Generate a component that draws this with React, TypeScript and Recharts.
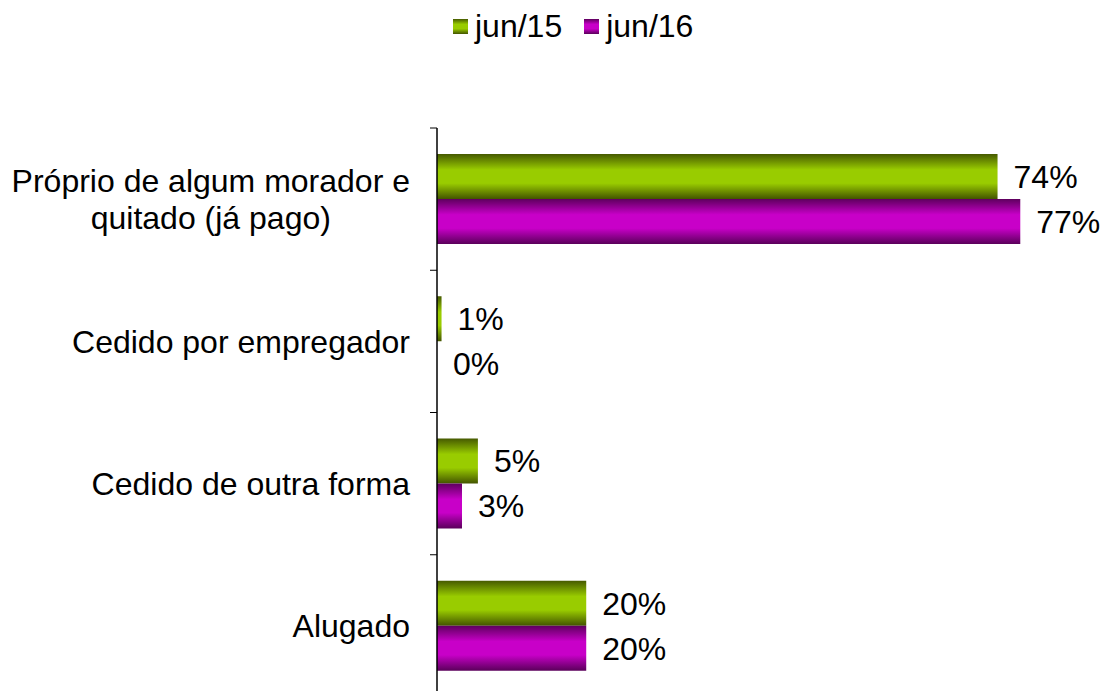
import { BarChart, Bar, XAxis, YAxis, LabelList } from "recharts";

const categories = [
  "Próprio de algum morador e\nquitado (já pago)",
  "Cedido por empregador",
  "Cedido de outra forma",
  "Alugado",
];
// bar lengths; labels show the rounded percent
const jun15 = [74, 0.6, 5.4, 19.7];
const jun16 = [77, 0, 3.3, 19.7];

const series = [
  { key: "jun15", name: "jun/15", grad: "gGreen", stops: ["#465a00", "#99cc00", "#99cc00", "#435400"] },
  { key: "jun16", name: "jun/16", grad: "gPurple", stops: ["#5e005e", "#c800c8", "#c800c8", "#5a005a"] },
];

const data = categories.map((c, i) => ({ cat: c, jun15: jun15[i], jun16: jun16[i] }));

const FONT = '"Liberation Sans", Arial, sans-serif';
const FS = 32;
const W = 1102;
const H = 691;
const CHART_H = 697; // plot runs a little past the bottom edge, as in the original
const TOP = 128;
const AXIS_X = 437;
const PX_PER_PCT = 7.575;
const BAND = (CHART_H - TOP) / categories.length;

let ctx: CanvasRenderingContext2D | null = null;
function textWidth(s: string) {
  if (!ctx && typeof document !== "undefined") {
    ctx = document.createElement("canvas").getContext("2d");
  }
  if (!ctx) return s.length * FS * 0.5;
  ctx.font = `${FS}px ${FONT}`;
  return ctx.measureText(s).width;
}

const CategoryTick = (props: any) => {
  const { x, y, payload, index } = props;
  const lines = String(payload.value).split("\n");
  const maxW = Math.max(...lines.map(textWidth));
  const cx = x - maxW / 2;
  const lineH = 37;
  const y0 = y - ((lines.length - 1) * lineH) / 2;
  const top = y - BAND / 2;
  return (
    <g>
      <line x1={AXIS_X - 7} x2={AXIS_X} y1={top} y2={top} stroke="#000" strokeWidth={1} />
      {index === categories.length - 1 && (
        <line x1={AXIS_X - 7} x2={AXIS_X} y1={top + BAND} y2={top + BAND} stroke="#000" strokeWidth={1} />
      )}
      <text textAnchor="middle" fontSize={FS} fontFamily={FONT} fill="#000">
        {lines.map((l, i) => (
          <tspan key={i} x={cx} y={y0 + i * lineH} dy="0.35em">
            {l}
          </tspan>
        ))}
      </text>
    </g>
  );
};

function LegendSwatch({ stops }: { stops: string[] }) {
  return (
    <div
      style={{
        width: 15,
        height: 15,
        background: `linear-gradient(to bottom, ${stops[0]} 0%, ${stops[1]} 35%, ${stops[2]} 65%, ${stops[3]} 100%)`,
        marginRight: 7,
      }}
    />
  );
}

export default function App() {
  return (
    <div
      style={{
        position: "absolute",
        left: 0,
        top: 0,
        width: W,
        height: H,
        overflow: "hidden",
        background: "#fff",
      }}
    >
      <div
        style={{
          position: "absolute",
          left: 453,
          top: 6,
          display: "flex",
          alignItems: "center",
          fontFamily: FONT,
          fontSize: FS,
          color: "#000",
          lineHeight: "40px",
        }}
      >
        {series.map((s, i) => (
          <div key={s.key} style={{ display: "flex", alignItems: "center", marginRight: i === 0 ? 22 : 0 }}>
            <LegendSwatch stops={s.stops} />
            <span>{s.name}</span>
          </div>
        ))}
      </div>
      <div style={{ position: "absolute", left: 0, top: 0 }}>
        <BarChart
          width={W}
          height={CHART_H}
          data={data}
          layout="vertical"
          margin={{ top: TOP, right: W - AXIS_X - 80 * PX_PER_PCT, bottom: 0, left: 0 }}
          barSize={45}
          barGap={0}
        >
          <defs>
            {series.map((s) => (
              <linearGradient key={s.grad} id={s.grad} x1="0" y1="0" x2="0" y2="1">
                <stop offset="0%" stopColor={s.stops[0]} />
                <stop offset="35%" stopColor={s.stops[1]} />
                <stop offset="65%" stopColor={s.stops[2]} />
                <stop offset="100%" stopColor={s.stops[3]} />
              </linearGradient>
            ))}
          </defs>
          <XAxis type="number" domain={[0, 80]} hide />
          <YAxis
            type="category"
            dataKey="cat"
            width={AXIS_X}
            axisLine={{ stroke: "#000", strokeWidth: 1.5 }}
            tickLine={false}
            tickSize={0}
            tickMargin={27}
            tick={<CategoryTick />}
            interval={0}
          />
          {series.map((s) => (
            <Bar
              key={s.key}
              dataKey={s.key}
              name={s.name}
              fill={`url(#${s.grad})`}
              minPointSize={0.01}
              isAnimationActive={false}
            >
              <LabelList
                dataKey={s.key}
                position="right"
                offset={16}
                formatter={(v: any) => `${Math.round(Number(v))}%`}
                fill="#000"
                fontSize={FS}
                fontFamily={FONT}
              />
            </Bar>
          ))}
        </BarChart>
      </div>
    </div>
  );
}
